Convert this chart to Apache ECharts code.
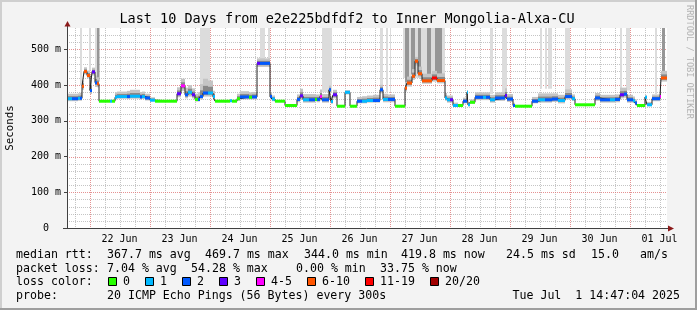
<!DOCTYPE html>
<html><head><meta charset="utf-8">
<script src="https://cdn.jsdelivr.net/npm/echarts@6/dist/echarts.min.js"></script>
<style>html,body{margin:0;padding:0;background:#f3f3f3}#c{width:697px;height:310px}</style>
</head><body><div id="c"></div>
<script>
// ---- time axis: hours since 2025-06-21 00:00 ----
const xMin = 15, xMax = 255;
const yMin = 0, yMax = 560;
const dayLabels = ['22 Jun','23 Jun','24 Jun','25 Jun','26 Jun','27 Jun','28 Jun','29 Jun','30 Jun','01 Jul'];
const dayLabelHours = [36,60,84,108,132,156,180,204,228,252];
const gridHours = [18,24,30,36,42,48,54,60,66,72,78,84,90,96,102,108,114,120,126,132,138,144,150,156,162,168,174,180,186,192,198,204,210,216,222,228,234,240,246,252];
const yTickValues = [0,100,200,300,400,500];
const yMinorValues = [20,40,60,80,120,140,160,180,220,240,260,280,320,340,360,380,420,440,460,480,520,540];

// ---- median rtt segments (start hour, median ms, loss class, smoke low, smoke high) ----
const segT = [15.0,17.0,19.4,20.2,21.0,21.8,23.0,24.2,25.0,26.2,27.0,27.8,32.2,33.0,34.2,35.0,39.0,40.2,44.2,45.0,46.2,48.2,50.2,59.0,60.6,62.2,63.4,65.0,66.2,67.4,68.2,69.4,71.4,73.4,74.2,80.2,81.0,83.0,84.2,87.8,89.0,91.0,92.2,96.2,97.0,98.2,102.2,107.0,108.2,109.4,111.8,114.2,115.0,116.2,117.0,119.8,120.6,121.4,123.0,126.2,128.2,131.0,133.0,135.0,137.4,140.2,141.4,143.4,146.2,150.2,151.0,153.0,154.2,155.4,157.0,161.0,163.0,166.2,167.0,168.2,169.4,171.4,173.4,175.0,175.4,176.2,178.2,181.4,182.6,184.2,186.2,190.2,191.0,193.4,194.2,201.0,203.4,206.2,209.0,211.4,214.2,217.0,218.2,226.2,228.2,232.2,234.2,236.2,237.8,239.0,241.4,242.2,243.0,246.2,247.0,249.0,252.2,252.6];
const segMed = [362,362,363,363,397,438,427,385,437,407,404,355,355,355,366,368,368,369,367,368,364,358,355,376,398,373,380,373,360,360,368,378,378,368,355,356,355,362,367,366,367,461,461,368,361,355,343,360,370,359,359,360,360,368,359,387,354,373,341,380,341,355,355,357,357,387,360,360,341,392,406,425,467,432,412,420,413,364,359,359,343,343,355,380,345,352,366,366,366,359,364,371,361,343,341,355,359,359,361,357,368,362,345,364,359,359,360,373,375,359,356,350,343,366,345,362,368,420];
const segLoss = [1,2,1,2,5,5,5,2,3,2,5,0,1,0,1,1,2,1,2,1,2,1,0,3,4,2,1,3,0,2,2,2,1,1,0,1,0,0,2,0,2,3,2,2,1,0,0,2,3,1,2,0,2,4,2,2,1,3,0,1,0,2,1,1,2,2,1,2,0,5,5,5,5,5,5,6,5,1,1,3,1,0,2,1,1,0,2,1,2,1,2,3,2,2,0,2,1,2,2,1,2,1,0,2,2,1,2,3,2,2,1,2,0,1,1,2,4,5];
const smokeLow = [355,355,356,356,387,430,419,375,427,395,394,354,353,354,360,362,361,362,360,361,357,354,354,366,384,363,368,363,354,354,360,368,368,360,354,354,354,356,360,360,360,451,451,360,355,354,342,352,360,351,351,354,352,356,351,375,348,363,340,374,340,349,349,351,351,377,352,352,340,382,396,415,455,422,404,410,405,356,351,351,339,342,349,372,341,348,358,358,358,351,356,361,353,339,340,349,351,351,353,349,360,356,344,356,351,351,352,363,365,351,350,344,342,360,341,355,358,410];
const smokeHigh = [376,376,377,379,413,450,441,415,449,427,422,357,359,357,380,382,384,387,381,382,376,366,357,394,418,393,400,391,376,380,403,418,413,384,357,360,357,376,383,380,381,475,475,380,371,357,345,374,390,375,375,374,374,388,375,399,368,387,343,386,343,367,369,371,373,401,376,374,343,408,424,445,479,452,432,440,433,378,371,371,351,345,365,386,353,360,380,380,380,373,380,391,375,351,343,367,377,377,377,373,388,374,347,378,373,373,374,393,393,373,368,360,345,372,353,374,384,440];

// ---- smoke reaching above the chart (start hour, end hour, lowest ms, shade) ----
const spikeT0 = [20.2,23.8,26.2,27.0,68.2,92.2,95.4,117.0,140.2,142.6,144.2,149.4,150.2,152.6,155.4,159.0,162.2,184.2,189.0,204.2,206.2,207.4,214.2,236.2,238.6,250.2,253.0];
const spikeT1 = [21.0,24.6,27.0,28.0,72.2,94.2,96.2,121.0,141.4,143.4,144.6,166.2,151.8,154.2,156.6,160.6,165.0,185.4,191.0,205.0,207.0,209.0,216.2,237.0,240.2,251.0,254.2];
const spikeFrom = [400,440,420,410,400,470,470,380,395,380,380,420,400,430,445,425,425,375,375,390,390,390,385,385,385,375,425];
const spikeShade = [0,0,0,2,0,0,0,0,0,0,0,0,2,2,2,2,2,0,0,0,0,0,0,0,0,0,2];

// ---- legend ----
const lossLabels = ['0','1','2','3','4-5','6-10','11-19','20/20'];
const lossColors = ['#26ff00','#00b8ff','#0059ff','#5e00ff','#ff00ff','#ff5500','#ff0000','#a10000'];
const shadeColors = ['#dcdcdc','#c2c2c2','#969696'];
const titleText = 'Last 10 Days from e2e225bdfdf2 to Inner Mongolia-Alxa-CU';
const statRows = [
  [['median rtt:',16],['367.7 ms avg',107],['469.7 ms max',205],['344.0 ms min',304],['419.8 ms now',401],['24.5 ms sd',506],['15.0',591],['am/s',640]],
  [['packet loss:',16],['7.04 % avg',107],['54.28 % max',191],['0.00 % min',296],['33.75 % now',380]],
  [['loss color:',16]],
  [['probe:',16],['20 ICMP Echo Pings (56 Bytes) every 300s',107]]
];
const stampText = 'Tue Jul  1 14:47:04 2025';
const legendBoxX = [108,145,182,219,256,307,365,430];

const MONO = '"DejaVu Sans Mono", monospace';
const LFONT = '11.6px ' + MONO;
const chart = echarts.init(document.getElementById('c'), null, {width:697, height:310});

function clipRect(r, cs){
  return echarts.graphic.clipRectByRect(r, {x:cs.x, y:cs.y, width:cs.width, height:cs.height});
}
function bandItem(fillFn, frac){
  return function(params, api){
    const t0 = api.value(0), t1 = api.value(1), lo = api.value(2), hi = api.value(3), m = api.value(4);
    let a = lo, b = hi;
    if (frac !== undefined){ a = m - (m - lo)*frac; b = m + (hi - m)*frac; }
    const p0 = api.coord([t0, b]), p1 = api.coord([t1, a]);
    const r = clipRect({x:p0[0], y:p0[1], width:p1[0]-p0[0], height:p1[1]-p0[1]}, params.coordSys);
    if (!r) return null;
    return {type:'rect', shape:r, style:{fill: fillFn(params.dataIndex)}};
  };
}
const segEnd = segT.map((t,i)=> i < segT.length-1 ? segT[i+1] : xMax);
const segData = segT.map((t,i)=>[t, segEnd[i], smokeLow[i], smokeHigh[i], segMed[i]]);
const spikeData = spikeT0.map((t,i)=>[t, spikeT1[i], spikeFrom[i], yMax, spikeFrom[i]]);
const lineData = segT.map((t,i)=>[t, segMed[i]]).concat([[xMax, segMed[segMed.length-1]]]);

const graphics = [];
graphics.push({type:'rect', shape:{x:0,y:0,width:697,height:2}, style:{fill:'#cfcfcf'}, silent:true});
graphics.push({type:'rect', shape:{x:0,y:0,width:2,height:310}, style:{fill:'#cfcfcf'}, silent:true});
graphics.push({type:'rect', shape:{x:0,y:308,width:697,height:2}, style:{fill:'#9e9e9e'}, silent:true});
graphics.push({type:'rect', shape:{x:695,y:0,width:2,height:310}, style:{fill:'#9e9e9e'}, silent:true});
graphics.push({type:'text', x:347, y:19, style:{text:titleText, font:'13.5px '+MONO, fill:'#000', align:'center', verticalAlign:'middle'}, silent:true});
graphics.push({type:'text', x:689, y:5, rotation:-Math.PI/2, style:{text:'RRDTOOL / TOBI OETIKER', font:'8.6px '+MONO, fill:'#b4b4b4', align:'left', verticalAlign:'middle'}, silent:true});
graphics.push({type:'line', shape:{x1:67.5,y1:228,x2:67.5,y2:24}, style:{stroke:'#404040',lineWidth:1}, z:50, silent:true});
graphics.push({type:'line', shape:{x1:63,y1:228.5,x2:670,y2:228.5}, style:{stroke:'#404040',lineWidth:1}, z:50, silent:true});
graphics.push({type:'polygon', shape:{points:[[64.5,26.5],[70.5,26.5],[67.5,21]]}, style:{fill:'#8b1a1a'}, z:50, silent:true});
graphics.push({type:'polygon', shape:{points:[[668,225.5],[668,231.5],[674,228.5]]}, style:{fill:'#8b1a1a'}, z:50, silent:true});
const rowY = [255,268.5,282,296];
statRows.forEach((row,ri)=>row.forEach(([txt,x])=>{
  graphics.push({type:'text', x:x, y:rowY[ri], style:{text:txt, font:LFONT, fill:'#000', align:'left', verticalAlign:'middle'}, silent:true});
}));
graphics.push({type:'text', x:680, y:rowY[3], style:{text:stampText, font:LFONT, fill:'#000', align:'right', verticalAlign:'middle'}, silent:true});
lossLabels.forEach((lab,i)=>{
  graphics.push({type:'rect', shape:{x:legendBoxX[i]+0.5, y:277.5, width:8, height:8}, style:{fill:lossColors[i], stroke:'#000', lineWidth:1}, silent:true});
  graphics.push({type:'text', x:legendBoxX[i]+15, y:282, style:{text:lab, font:LFONT, fill:'#000', align:'left', verticalAlign:'middle'}, silent:true});
});

const option = {
  backgroundColor:'#f3f3f3',
  animation:false,
  grid:{left:67, right:30, top:28, bottom:82, show:true, backgroundColor:'#ffffff', borderWidth:0, containLabel:false, outerBoundsMode:'none'},
  xAxis:{type:'value', min:xMin, max:xMax,
    axisLine:{show:false}, splitLine:{show:false}, axisTick:{show:false},
    axisLabel:{customValues:dayLabelHours, formatter:(v)=>dayLabels[dayLabelHours.indexOf(v)] || '', fontFamily:MONO, fontSize:10, color:'#000', margin:6}
  },
  yAxis:{type:'value', min:yMin, max:yMax,
    name:'Seconds', nameLocation:'middle', nameGap:51, nameRotate:90,
    nameTextStyle:{fontFamily:MONO, fontSize:10.8, color:'#000'},
    axisLine:{show:false}, splitLine:{show:false},
    axisTick:{show:true, customValues:yTickValues, length:3, lineStyle:{color:'#404040'}},
    axisLabel:{customValues:yTickValues, formatter:(v)=> v===0 ? '0  ' : v+' m', fontFamily:MONO, fontSize:10, color:'#000', margin:6}
  },
  graphic:graphics,
  series:[
    {type:'custom', silent:true, z:1, data:gridHours.map(h=>[h,0]),
      renderItem:(params, api)=>{
        const h = api.value(0); const x = Math.round(api.coord([h,0])[0])+0.5; const cs = params.coordSys;
        const major = h % 24 === 0;
        return {type:'line', shape:{x1:x,y1:cs.y,x2:x,y2:cs.y+cs.height}, style:{stroke: major ? 'rgba(220,110,110,0.75)' : 'rgba(150,150,150,0.55)', lineWidth:1, lineDash:[1,1]}};
      }},
    {type:'custom', silent:true, z:1, data:yMinorValues.map(v=>[xMin,v,0]).concat(yTickValues.slice(1).map(v=>[xMin,v,1])),
      renderItem:(params, api)=>{
        const v = api.value(1); const y = Math.round(api.coord([xMin,v])[1])+0.5; const cs = params.coordSys;
        const major = api.value(2) === 1;
        return {type:'line', shape:{x1:cs.x,y1:y,x2:cs.x+cs.width,y2:y}, style:{stroke: major ? 'rgba(220,110,110,0.75)' : 'rgba(150,150,150,0.55)', lineWidth:1, lineDash:[1,1]}};
      }},
    {type:'custom', silent:true, z:2, data:spikeData, encode:{x:[0,1], y:[2,3]},
      renderItem: bandItem(i=>shadeColors[spikeShade[i]])},
    {type:'custom', silent:true, z:3, data:segData, encode:{x:[0,1], y:[2,3]},
      renderItem: bandItem(()=> '#c4c4c4')},
    {type:'custom', silent:true, z:4, data:segData, encode:{x:[0,1], y:[2,3]},
      renderItem: bandItem(()=> '#888888', 0.5)},
    {type:'line', silent:true, z:5, data:lineData, step:'end', symbol:'none', lineStyle:{color:'#202020', width:1}},
    {type:'custom', silent:true, z:6, data:segData, encode:{x:[0,1], y:[4]},
      renderItem:(params, api)=>{
        const t0 = api.value(0), t1 = api.value(1), m = api.value(4);
        const p0 = api.coord([t0,m]), p1 = api.coord([t1,m]);
        return {type:'rect', shape:{x:p0[0], y:p0[1]-1.5, width:p1[0]-p0[0], height:3}, style:{fill:lossColors[segLoss[params.dataIndex]]}};
      }}
  ]
};
chart.setOption(option);
</script>
</body></html>
